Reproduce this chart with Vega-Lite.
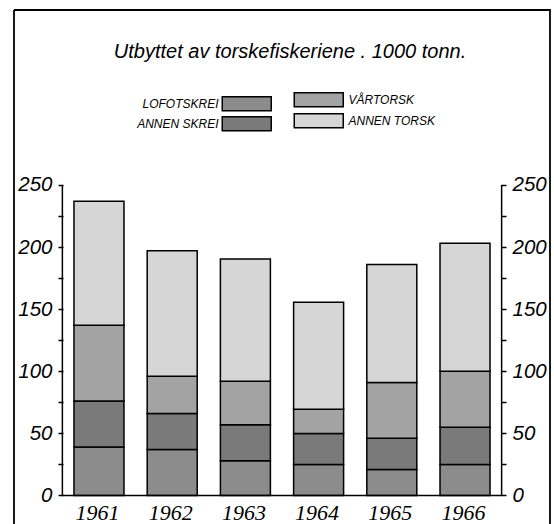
{
  "$schema": "https://vega.github.io/schema/vega-lite/v6.json",
  "width": 536,
  "height": 514,
  "autosize": {"type": "none"},
  "padding": {"left": 14, "top": 10, "right": 4, "bottom": 0},
  "background": "white",
  "title": {
    "text": "Utbyttet av torskefiskeriene .  1000 tonn.",
    "frame": "group",
    "anchor": "middle",
    "offset": -68,
    "baseline": "alphabetic",
    "dx": 8,
    "fontSize": 20,
    "fontStyle": "italic",
    "fontWeight": "normal",
    "font": "Liberation Sans",
    "color": "black"
  },
  "config": {
    "view": {"stroke": "black", "strokeWidth": 1.8, "strokeDash": [1050, 536, 514, 0]},
    "font": "Liberation Sans"
  },
  "data": {
    "values": [
      {"year": 1961, "series": "LOFOTSKREI", "ord": 1, "value": 39},
      {"year": 1961, "series": "ANNEN SKREI", "ord": 2, "value": 37},
      {"year": 1961, "series": "VÅRTORSK", "ord": 3, "value": 61},
      {"year": 1961, "series": "ANNEN TORSK", "ord": 4, "value": 100},
      {"year": 1962, "series": "LOFOTSKREI", "ord": 1, "value": 37},
      {"year": 1962, "series": "ANNEN SKREI", "ord": 2, "value": 29},
      {"year": 1962, "series": "VÅRTORSK", "ord": 3, "value": 30},
      {"year": 1962, "series": "ANNEN TORSK", "ord": 4, "value": 101},
      {"year": 1963, "series": "LOFOTSKREI", "ord": 1, "value": 28},
      {"year": 1963, "series": "ANNEN SKREI", "ord": 2, "value": 29},
      {"year": 1963, "series": "VÅRTORSK", "ord": 3, "value": 35},
      {"year": 1963, "series": "ANNEN TORSK", "ord": 4, "value": 98.5},
      {"year": 1964, "series": "LOFOTSKREI", "ord": 1, "value": 25},
      {"year": 1964, "series": "ANNEN SKREI", "ord": 2, "value": 25},
      {"year": 1964, "series": "VÅRTORSK", "ord": 3, "value": 19.5},
      {"year": 1964, "series": "ANNEN TORSK", "ord": 4, "value": 86},
      {"year": 1965, "series": "LOFOTSKREI", "ord": 1, "value": 21},
      {"year": 1965, "series": "ANNEN SKREI", "ord": 2, "value": 25},
      {"year": 1965, "series": "VÅRTORSK", "ord": 3, "value": 45},
      {"year": 1965, "series": "ANNEN TORSK", "ord": 4, "value": 95},
      {"year": 1966, "series": "LOFOTSKREI", "ord": 1, "value": 25},
      {"year": 1966, "series": "ANNEN SKREI", "ord": 2, "value": 30},
      {"year": 1966, "series": "VÅRTORSK", "ord": 3, "value": 45},
      {"year": 1966, "series": "ANNEN TORSK", "ord": 4, "value": 103}
    ]
  },
  "resolve": {
    "scale": {"fill": "independent"},
    "legend": {"fill": "independent"},
    "axis": {"y": "independent"}
  },
  "layer": [
    {
      "transform": [
        {"stack": "value", "groupby": ["year"], "sort": [{"field": "ord", "order": "ascending"}], "as": ["y0", "y1"]},
        {"filter": {"field": "series", "oneOf": ["LOFOTSKREI", "ANNEN SKREI"]}}
      ],
      "mark": {"type": "bar", "width": 50, "stroke": "black", "strokeWidth": 1.5},
      "encoding": {
        "x": {
          "field": "year", "type": "quantitative",
          "scale": {"domain": [1959.9075, 1967.0925], "nice": false, "zero": false},
          "axis": {
            "orient": "bottom", "offset": -28.5, "values": [1961, 1962, 1963, 1964, 1965, 1966],
            "format": "d", "domain": false, "ticks": false, "grid": false, "title": null,
            "labelPadding": 7, "labelFontSize": 22, "labelFont": "Liberation Sans Narrow", "labelFontStyle": "italic", "labelColor": "black",
            "labelOffset": -2, "labelFlush": false, "labelOverlap": false
          }
        },
        "y": {
          "field": "y0", "type": "quantitative",
          "scale": {"domain": [-22.95, 390.9], "nice": false, "zero": false},
          "axis": {
            "orient": "left", "offset": -49, "domain": false, "grid": false, "title": null,
            "values": [0, 25, 50, 75, 100, 125, 150, 175, 200, 225, 250],
            "tickSize": 5, "tickWidth": 1.5, "tickColor": "black",
            "labelExpr": "datum.value % 50 === 0 ? datum.label : ''",
            "labelPadding": 6, "labelFontSize": 20.5, "labelFontStyle": "italic", "labelColor": "black",
            "labelFlush": false, "labelOverlap": false
          }
        },
        "y2": {"field": "y1"},
        "fill": {
          "field": "series", "type": "nominal",
          "scale": {"domain": ["LOFOTSKREI", "ANNEN SKREI"], "range": ["#8c8c8c", "#7a7a7a"]},
          "legend": {
            "orient": "none", "legendX": 224.75, "legendY": 85.75, "direction": "vertical", "title": null,
            "padding": 0, "symbolType": "M-3.5,-1L3.5,-1L3.5,1L-3.5,1Z", "symbolSize": 196,
            "symbolStrokeColor": "black", "symbolStrokeWidth": 1.5, "symbolOpacity": 1,
            "rowPadding": 0, "labelAlign": "right", "labelOffset": -36.25,
            "labelFontSize": 12, "labelFontStyle": "italic", "labelColor": "black", "labelLimit": 200
          }
        }
      }
    },
    {
      "transform": [
        {"stack": "value", "groupby": ["year"], "sort": [{"field": "ord", "order": "ascending"}], "as": ["y0", "y1"]},
        {"filter": {"field": "series", "oneOf": ["VÅRTORSK", "ANNEN TORSK"]}}
      ],
      "mark": {"type": "bar", "width": 50, "stroke": "black", "strokeWidth": 1.5},
      "encoding": {
        "x": {"field": "year", "type": "quantitative"},
        "y": {
          "field": "y0", "type": "quantitative",
          "axis": {
            "orient": "right", "offset": -49, "domain": false, "grid": false, "title": null,
            "values": [0, 25, 50, 75, 100, 125, 150, 175, 200, 225, 250],
            "tickSize": 5, "tickWidth": 1.5, "tickColor": "black",
            "labelExpr": "datum.value % 50 === 0 ? datum.label : ''",
            "labelPadding": 6, "labelFontSize": 20.5, "labelFontStyle": "italic", "labelColor": "black",
            "labelFlush": false, "labelOverlap": false
          }
        },
        "y2": {"field": "y1"},
        "fill": {
          "field": "series", "type": "nominal",
          "scale": {"domain": ["VÅRTORSK", "ANNEN TORSK"], "range": ["#a3a3a3", "#d6d6d6"]},
          "legend": {
            "orient": "none", "legendX": 296.75, "legendY": 81.75, "direction": "vertical", "title": null,
            "padding": 0, "symbolType": "M-3.5,-1L3.5,-1L3.5,1L-3.5,1Z", "symbolSize": 196,
            "symbolStrokeColor": "black", "symbolStrokeWidth": 1.5, "symbolOpacity": 1,
            "rowPadding": 1, "labelAlign": "left", "labelOffset": 21.75,
            "labelFontSize": 12, "labelFontStyle": "italic", "labelColor": "black", "labelLimit": 200
          }
        }
      }
    },
    {
      "data": {"values": [{}]},
      "mark": {"type": "rule", "stroke": "black", "strokeWidth": 1.5},
      "encoding": {
        "x": {"datum": 1960.5, "type": "quantitative"},
        "y": {"datum": 0, "type": "quantitative", "axis": null},
        "y2": {"datum": 250}
      }
    },
    {
      "data": {"values": [{}]},
      "mark": {"type": "rule", "stroke": "black", "strokeWidth": 1.5},
      "encoding": {
        "x": {"datum": 1966.5, "type": "quantitative"},
        "y": {"datum": 0, "type": "quantitative", "axis": null},
        "y2": {"datum": 250}
      }
    },
    {
      "data": {"values": [{}]},
      "mark": {"type": "rule", "stroke": "black", "strokeWidth": 1.5},
      "encoding": {
        "x": {"datum": 1960.5, "type": "quantitative"},
        "x2": {"datum": 1966.5},
        "y": {"datum": 0, "type": "quantitative", "axis": null}
      }
    }
  ]
}
